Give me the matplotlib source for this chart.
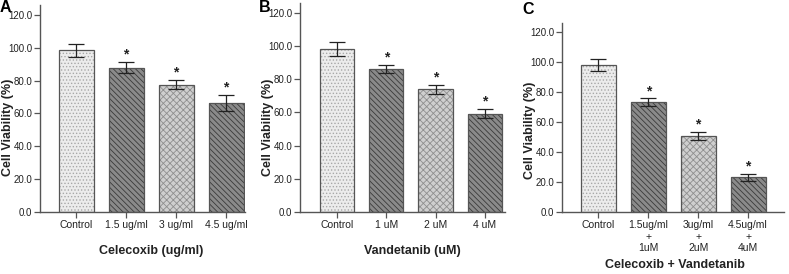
import matplotlib
matplotlib.use('Agg')
import matplotlib.pyplot as plt
import numpy as np

narrow = ['Liberation Sans Narrow', 'Liberation Sans', 'DejaVu Sans']
wide = ['Liberation Sans', 'DejaVu Sans']
plt.rcParams['font.family'] = narrow
plt.rcParams['hatch.linewidth'] = 0.6

# data
labels_a = ['Control', '1.5 ug/ml', '3 ug/ml', '4.5 ug/ml']
values_a = [98.5, 87.9, 77.4, 66.2]
errors_a = [4.0, 3.2, 2.8, 5.0]

labels_b = ['Control', '1 uM', '2 uM', '4 uM']
values_b = [98.2, 86.1, 74.0, 59.2]
errors_b = [4.0, 2.4, 2.8, 2.7]

labels_c = ['Control', '1.5ug/ml\n+\n1uM', '3ug/ml\n+\n2uM', '4.5ug/ml\n+\n4uM']
values_c = [98.3, 73.2, 50.4, 23.1]
errors_c = [4.0, 2.5, 2.7, 2.2]

yticks = [0, 20, 40, 60, 80, 100, 120]

faces = ['#ececec', '#8a8a8a', '#cfcfcf', '#8a8a8a']
hatches = ['.....', '\\\\\\\\\\\\', 'xxxxx', '\\\\\\\\\\\\']
hatch_cols = ['#a8a8a8', '#3a3a3a', '#8f8f8f', '#3a3a3a']

W, H = 789, 274
fig = plt.figure(figsize=(W / 100, H / 100), dpi=100)


def panel(px_left, px_right, px_top, px_bottom, xlim, labels, values, errors,
          xlabel, xlabel_xy, letter, letter_xy, ylab_xy):
    ax = fig.add_axes([px_left / W, 1 - px_bottom / H,
                       (px_right - px_left) / W, (px_bottom - px_top) / H])
    x = np.arange(len(values))
    for i in range(len(values)):
        ax.bar(x[i], values[i], width=0.7, color=faces[i], edgecolor=hatch_cols[i],
               hatch=hatches[i], linewidth=0, zorder=2)
        ax.bar(x[i], values[i], width=0.7, color='none', edgecolor='#555555',
               linewidth=0.9, zorder=3)
    ax.errorbar(x, values, yerr=errors, fmt='none', ecolor='#222222',
                elinewidth=0.9, capsize=5.5, capthick=0.9, zorder=4)
    for i in range(1, len(values)):
        ax.text(x[i], values[i] + errors[i] + 0.3, '*', ha='center', va='bottom',
                fontsize=10, fontweight='bold', color='#222222', family=wide)
    ax.set_xlim(*xlim)
    ax.set_ylim(0, 126)
    ax.set_yticks(yticks)
    ax.set_yticklabels(['%.1f' % t for t in yticks], fontsize=7, color='#222222')
    ax.set_xticks(x)
    ax.set_xticklabels(labels, fontsize=7.5, color='#222222', linespacing=1.15)
    for s in ['top', 'right']:
        ax.spines[s].set_visible(False)
    for s in ['left', 'bottom']:
        ax.spines[s].set_color('#555555')
        ax.spines[s].set_linewidth(1.0)
    ax.tick_params(axis='both', length=4, width=0.9, color='#555555', pad=2)
    ax.tick_params(axis='y', pad=1.5)
    fig.text(ylab_xy[0] / W, 1 - ylab_xy[1] / H, 'Cell Viability (%)', rotation=90,
             ha='center', va='center', fontsize=9, fontweight='bold', color='#222222',
             family=wide)
    fig.text(xlabel_xy[0] / W, 1 - xlabel_xy[1] / H, xlabel,
             ha='center', va='center', fontsize=9, fontweight='bold', color='#222222')
    fig.text(letter_xy[0] / W, 1 - letter_xy[1] / H, letter, ha='left', va='top',
             fontsize=11.5, fontweight='bold', family=wide)
    return ax


panel(40, 245, 5, 212, (-0.72, 3.38), labels_a, values_a, errors_a,
      'Celecoxib (ug/ml)', (151, 251), 'A', (0, 0), (8, 127))
panel(300, 505, 3, 212, (-0.75, 3.41), labels_b, values_b, errors_b,
      'Vandetanib (uM)', (412, 251), 'B', (259, 0), (268, 127))
panel(562, 784, 23, 212, (-0.73, 3.72), labels_c, values_c, errors_c,
      'Celecoxib + Vandetanib', (675, 265), 'C', (522, 2), (530, 130))

fig.savefig('out.png', dpi=100)
